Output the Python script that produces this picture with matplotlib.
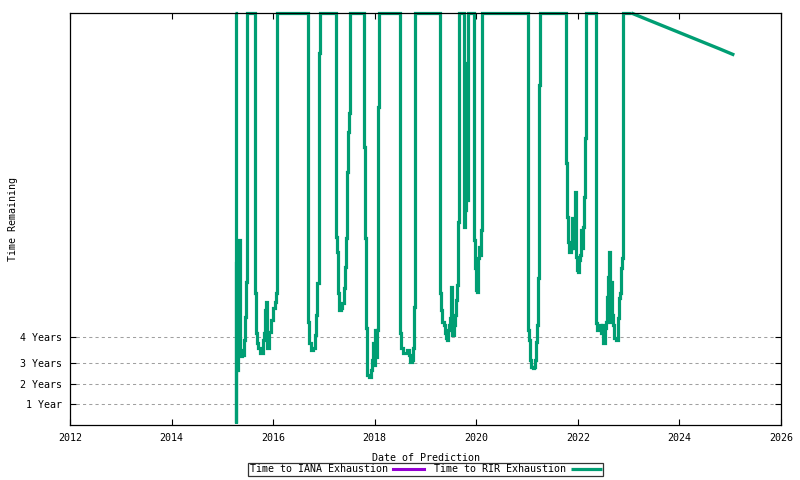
import matplotlib
matplotlib.use("Agg")
import matplotlib.pyplot as plt

# ---- data (decimal year of prediction, years remaining; 20 = clipped at top) ----
rir_dates = [
    2015.258, 2015.262, 2015.278, 2015.297, 2015.317, 2015.337, 2015.356, 2015.376,
    2015.396, 2015.415, 2015.435, 2015.455, 2015.474, 2015.494,
    2015.632, 2015.652, 2015.671, 2015.691, 2015.711, 2015.750, 2015.789, 2015.809,
    2015.829, 2015.848, 2015.868, 2015.888, 2015.927, 2015.967, 2016.006, 2016.045,
    2016.065, 2016.075, 2016.085,
    2016.675, 2016.695, 2016.715, 2016.754, 2016.793, 2016.833, 2016.852, 2016.872,
    2016.911, 2016.931,
    2017.226, 2017.236, 2017.246, 2017.266, 2017.285, 2017.305, 2017.344, 2017.364,
    2017.403, 2017.423, 2017.443, 2017.462, 2017.482, 2017.502, 2017.521,
    2017.778, 2017.787, 2017.797, 2017.817, 2017.837, 2017.856, 2017.896, 2017.935,
    2017.955, 2017.974, 2017.994, 2018.014, 2018.033, 2018.053, 2018.073, 2018.093,
    2018.486, 2018.496, 2018.506, 2018.526, 2018.565, 2018.604, 2018.644, 2018.683,
    2018.703, 2018.742, 2018.762, 2018.781, 2018.801,
    2019.274, 2019.283, 2019.293, 2019.313, 2019.333, 2019.372, 2019.392, 2019.411,
    2019.431, 2019.451, 2019.470, 2019.490, 2019.510, 2019.530, 2019.569, 2019.589,
    2019.608, 2019.628, 2019.648, 2019.667,
    2019.746, 2019.752, 2019.766, 2019.785, 2019.805, 2019.825, 2019.844,
    2019.943, 2019.953, 2019.963, 2019.982, 2020.002, 2020.022, 2020.041, 2020.061,
    2020.081, 2020.100, 2020.110, 2020.120,
    2021.006, 2021.016, 2021.026, 2021.045, 2021.065, 2021.085, 2021.124, 2021.144,
    2021.163, 2021.183, 2021.203, 2021.222, 2021.242, 2021.262,
    2021.764, 2021.774, 2021.783, 2021.803, 2021.823, 2021.862, 2021.882, 2021.902,
    2021.921, 2021.941, 2021.961, 2021.980, 2022.000, 2022.020, 2022.039, 2022.059,
    2022.079, 2022.098, 2022.118, 2022.138, 2022.157,
    2022.344, 2022.354, 2022.364, 2022.384, 2022.423, 2022.462, 2022.482, 2022.502,
    2022.541, 2022.561, 2022.580, 2022.600, 2022.620, 2022.639, 2022.659, 2022.679,
    2022.698, 2022.718, 2022.757, 2022.777, 2022.797, 2022.816, 2022.836, 2022.856,
    2022.875, 2022.895,
    2023.053, 2023.300, 2023.550, 2023.800, 2024.050, 2024.300, 2024.550, 2024.800,
    2025.081,
]
rir_values = [
    20, 0.10, 7.86, 2.67, 3.88, 8.98, 3.50, 3.35,
    3.64, 3.40, 4.13, 5.24, 6.94, 20,
    20, 6.41, 4.47, 3.98, 3.74, 3.50, 3.50, 4.13,
    4.47, 5.58, 5.97, 3.74, 4.51, 5.10, 5.68, 5.97,
    6.41, 8.11, 20,
    20, 5.00, 3.98, 3.64, 3.74, 4.37, 5.34, 6.89,
    18.06, 20,
    20, 12.86, 9.13, 8.40, 6.41, 5.58, 5.68, 5.92,
    6.65, 7.67, 9.08, 12.28, 14.22, 15.15, 20,
    20, 17.82, 13.50, 9.08, 4.71, 2.43, 2.33, 2.67,
    3.16, 3.98, 2.91, 4.61, 3.30, 4.61, 15.44, 20,
    20, 7.38, 4.47, 3.74, 3.50, 3.50, 3.64, 3.40,
    3.06, 3.16, 3.74, 5.73, 20,
    20, 8.98, 6.41, 5.58, 5.00, 4.85, 4.47, 4.22,
    4.13, 4.61, 4.85, 5.19, 6.70, 4.37, 4.85, 5.34,
    6.07, 6.80, 9.85, 20,
    20, 10.68, 9.61, 10.44, 17.57, 10.92, 20,
    20, 10.10, 8.98, 7.62, 6.55, 6.46, 8.11, 8.64,
    8.25, 9.47, 19.03, 20,
    20, 5.97, 4.61, 4.13, 3.16, 2.82, 2.77, 2.82,
    3.16, 4.03, 4.85, 7.14, 16.50, 20,
    20, 12.72, 10.10, 8.88, 8.40, 8.59, 10.05, 8.74,
    8.59, 11.31, 8.16, 7.52, 7.43, 8.01, 8.25, 9.47,
    8.59, 9.61, 11.07, 13.93, 20,
    20, 5.58, 4.95, 4.61, 4.85, 4.47, 4.85, 3.98,
    4.71, 5.00, 6.21, 7.18, 8.40, 5.00, 6.94, 5.34,
    4.85, 4.22, 4.13, 4.13, 5.19, 6.17, 6.41, 7.62,
    8.11, 20,
    20, 19.75, 19.50, 19.25, 19.00, 18.75, 18.50, 18.25,
    17.96,
]
iana_dates = []
iana_values = []

x_ticks = [2012, 2014, 2016, 2018, 2020, 2022, 2024, 2026]
y_ticks = [1, 2, 3, 4.25]
y_tick_labels = ["1 Year", "2 Years", "3 Years", "4 Years"]

FONT = ["DejaVu Sans Mono"]
plt.rcParams["font.family"] = FONT
plt.rcParams["font.size"] = 7.2

fig = plt.figure(figsize=(8, 4.8), dpi=100)
ax = fig.add_axes([70 / 800, 55 / 480, 711 / 800, 412 / 480])

ax.plot(iana_dates, iana_values, color="#9400D3", lw=2.2,
        label="Time to IANA Exhaustion")
# jagged step trace for the dips; straight line for the final decline
n_tail = 9
ax.plot(rir_dates[:-n_tail + 1], rir_values[:-n_tail + 1], color="#009E73",
        lw=2.3, clip_on=False, drawstyle="steps-post",
        solid_joinstyle="miter", solid_capstyle="butt",
        label="Time to RIR Exhaustion")
ax.plot(rir_dates[-n_tail:], rir_values[-n_tail:], color="#009E73",
        lw=2.4, clip_on=False, solid_capstyle="butt")

ax.set_xlim(2012, 2026)
ax.set_ylim(0, 20)
ax.set_xticks(x_ticks)
ax.set_xticklabels([str(t) for t in x_ticks])
ax.set_yticks(y_ticks)
ax.set_yticklabels(y_tick_labels)

ax.tick_params(direction="in", length=4, width=0.8, top=True, right=True,
               colors="black", labelsize=7.2, pad=6)
ax.yaxis.grid(True, color="#a0a0a0", linestyle=(0, (3, 3)), linewidth=0.75)
ax.xaxis.grid(False)
for s in ax.spines.values():
    s.set_linewidth(0.9)
    s.set_color("black")

ax.set_xlabel("Date of Prediction", fontsize=7.2, labelpad=7)
ax.set_ylabel("Time Remaining", fontsize=7.2)
ax.yaxis.set_label_coords(-52 / 711, 0.5)

leg = ax.legend(loc="center", bbox_to_anchor=(0.5, -44 / 412), ncol=2,
                frameon=True, fancybox=False, markerfirst=False,
                handlelength=3.1, handletextpad=0.5, columnspacing=1.0,
                borderpad=0.15, borderaxespad=0, fontsize=7.2)
leg.get_frame().set_edgecolor("black")
leg.get_frame().set_linewidth(0.9)
leg.get_frame().set_boxstyle("square", pad=0)

fig.savefig("out.png", dpi=100)
